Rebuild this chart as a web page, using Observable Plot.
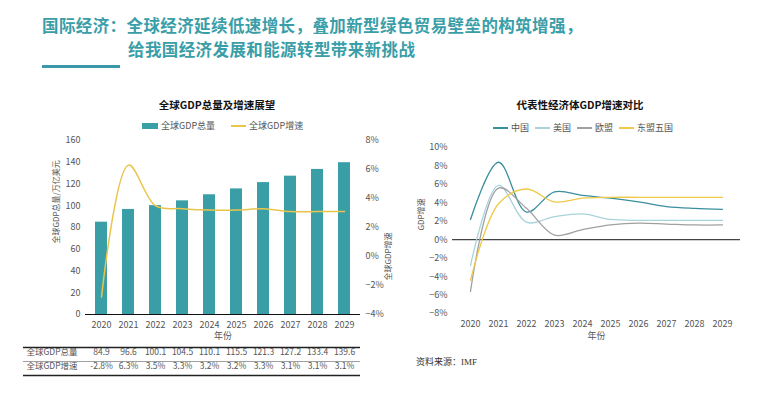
<!DOCTYPE html>
<html><head><meta charset="utf-8">
<script src="https://cdn.jsdelivr.net/npm/d3@7"></script>
<script src="https://cdn.jsdelivr.net/npm/@observablehq/plot@0.6"></script>
<style>
body{margin:0;background:#fff;}
#root{position:relative;width:767px;height:397px;overflow:hidden;font-family:'Noto Sans CJK SC','Noto Sans',sans-serif;background:#fff;}
.abs{position:absolute;white-space:nowrap;}
.title{color:#3a9ea8;font-weight:bold;font-size:16.5px;line-height:24px;letter-spacing:0.4px;}
.ctitle{font-weight:bold;font-size:10.5px;line-height:14px;color:#111;transform:translateX(-50%);}
.leg{font-size:9px;line-height:12px;color:#555;display:flex;align-items:center;}
.sw{display:inline-block;margin-right:3px;}
</style></head>
<body><div id="root">
<div class="abs title" style="left:42px;top:12.5px;">国际经济：全球经济延续低速增长，叠加新型绿色贸易壁垒的构筑增强，</div>
<div class="abs title" style="left:128px;top:36.5px;">给我国经济发展和能源转型带来新挑战</div>
<div class="abs" style="left:42px;top:65px;width:78px;height:3px;background:#3b98a8;"></div>
<div class="abs ctitle" style="left:217px;top:98px;">全球GDP总量及增速展望</div>
<div class="abs ctitle" style="left:580px;top:98px;">代表性经济体GDP增速对比</div>
<div id="legL" class="abs leg" style="left:142px;top:120px;"></div>
<div id="legR" class="abs leg" style="left:493px;top:122px;"></div>
<div class="abs" style="left:416px;top:355px;font-family:'Liberation Serif','Noto Sans CJK SC',serif;font-size:9px;line-height:14px;color:#333;">资料来源：IMF</div>
</div>
<script>
// ---- data ----
const years = ["2020","2021","2022","2023","2024","2025","2026","2027","2028","2029"];
const gdpTotal = [84.9, 96.6, 100.1, 104.5, 110.1, 115.5, 121.3, 127.2, 133.4, 139.6];
const gdpGrowth = [-2.8, 6.3, 3.5, 3.3, 3.2, 3.2, 3.3, 3.1, 3.1, 3.1];
const leftTicks = [0, 20, 40, 60, 80, 100, 120, 140, 160];
const rightTicks = [-4, -2, 0, 2, 4, 6, 8];

const seriesNames = ["中国", "美国", "欧盟", "东盟五国"];
const seriesColors = ["#3a8f9e", "#a9d2dd", "#a0a0a0", "#f0c94a"];
const china = [2.2, 8.4, 3.0, 5.2, 4.8, 4.5, 4.1, 3.6, 3.4, 3.3];
const usa = [-2.8, 5.9, 1.9, 2.5, 2.8, 2.2, 2.1, 2.1, 2.1, 2.1];
const eu = [-5.6, 5.6, 3.4, 0.5, 1.1, 1.6, 1.8, 1.7, 1.6, 1.6];
const asean5 = [-4.4, 3.9, 5.5, 4.1, 4.5, 4.6, 4.6, 4.6, 4.6, 4.6];
const compTicks = [-8, -6, -4, -2, 0, 2, 4, 6, 8, 10];

// ---- helpers ----
const toLeft = g => (g + 4) * 160 / 12;
const fromLeft = v => v * 12 / 160 - 4;
const fmtPct = v => (v < 0 ? "−" + Math.abs(v) : String(v)) + "%";
const font = "'Noto Sans CJK SC','Noto Sans',sans-serif";
const root = document.getElementById("root");

const gdpRows = years.map((y, i) => ({year: y, total: gdpTotal[i], growth: gdpGrowth[i]}));

// ---- left chart ----
const left = Plot.plot({
  width: 400, height: 397,
  marginTop: 140, marginBottom: 83, marginLeft: 85, marginRight: 40,
  style: {fontFamily: font, fontSize: "9px", color: "#555", background: "transparent", overflow: "visible"},
  x: {type: "band", domain: years, paddingInner: 0.56, paddingOuter: 0.28},
  y: {domain: [0, 160]},
  marks: [
    Plot.axisY({ticks: leftTicks, tickSize: 0, tickPadding: 5, label: null}),
    Plot.axisY({anchor: "right", ticks: rightTicks.map(toLeft), tickFormat: v => fmtPct(Math.round(fromLeft(v))), tickSize: 0, tickPadding: 5, label: null}),
    Plot.axisX({tickSize: 0, tickPadding: 7, label: null}),
    Plot.barY(gdpRows, {x: "year", y: "total", fill: "#3a9ea6"}),
    Plot.ruleY([0], {stroke: "#111", strokeWidth: 1.2}),
    Plot.line(gdpRows, {x: "year", y: d => toLeft(d.growth), curve: "catmull-rom", stroke: "#e9c54b", strokeWidth: 1.5}),
    Plot.text(["年份"], {frameAnchor: "bottom", dy: 24}),
    Plot.text(["全球GDP总量/万亿美元"], {frameAnchor: "left", rotate: -90, dx: -29, dy: 16, fontSize: 8}),
    Plot.text(["全球GDP增速"], {frameAnchor: "right", rotate: -90, dx: 28, dy: 5, fontSize: 8}),
    // table
    Plot.ruleY([0], {dy: 33, insetLeft: -62, stroke: "#222", strokeWidth: 1.4}),
    Plot.ruleY([0], {dy: 47, insetLeft: -62, stroke: "#888", strokeWidth: 0.8}),
    Plot.ruleY([0], {dy: 61, insetLeft: -62, stroke: "#222", strokeWidth: 1.6}),
    Plot.text(["全球GDP总量"], {frameAnchor: "bottom-left", textAnchor: "start", dx: -59, dy: 40, fontSize: 8.5}),
    Plot.text(["全球GDP增速"], {frameAnchor: "bottom-left", textAnchor: "start", dx: -59, dy: 54, fontSize: 8.5}),
    Plot.text(gdpRows, {x: "year", text: d => d.total.toFixed(1), frameAnchor: "bottom", dy: 40, fontSize: 8.5}),
    Plot.text(gdpRows, {x: "year", text: d => d.growth.toFixed(1) + "%", frameAnchor: "bottom", dy: 54, fontSize: 8.5})
  ]
});
left.style.position = "absolute"; left.style.left = "0px"; left.style.top = "0px";
root.appendChild(left);

// ---- right chart ----
const seriesValues = [china, usa, eu, asean5];
const compRows = seriesNames.flatMap((s, k) => years.map((y, i) => ({series: s, year: y, value: seriesValues[k][i]})));
const right = Plot.plot({
  width: 367, height: 397,
  marginTop: 147, marginBottom: 84, marginLeft: 52, marginRight: 27,
  style: {fontFamily: font, fontSize: "9px", color: "#555", background: "transparent", overflow: "visible"},
  x: {type: "point", domain: years, padding: 0.5},
  y: {domain: [-8, 10]},
  color: {domain: seriesNames, range: seriesColors},
  marks: [
    Plot.axisY({ticks: compTicks, tickFormat: fmtPct, tickSize: 0, tickPadding: 5, label: null}),
    Plot.axisX({tickSize: 0, tickPadding: 7, label: null}),
    Plot.ruleY([0], {stroke: "#444", strokeWidth: 1.2}),
    Plot.line(compRows, {x: "year", y: "value", z: "series", stroke: "series", curve: "catmull-rom", strokeWidth: 1.3}),
    Plot.text(["年份"], {frameAnchor: "bottom", dy: 25}),
    Plot.text(["GDP增速"], {frameAnchor: "left", rotate: -90, dx: -31, fontSize: 8})
  ]
});
right.style.position = "absolute"; right.style.left = "400px"; right.style.top = "0px";
root.appendChild(right);

// ---- legends ----
const legL = document.getElementById("legL");
legL.innerHTML =
  `<span class="sw" style="width:16px;height:6px;background:#3a9ea6;"></span><span>全球GDP总量</span>` +
  `<span class="sw" style="width:15px;height:1.5px;background:#e9c54b;margin-left:16px;"></span><span>全球GDP增速</span>`;
const legR = document.getElementById("legR");
legR.innerHTML = seriesNames.map((s, k) =>
  `<span class="sw" style="width:15px;height:1.5px;background:${seriesColors[k]};margin-left:${k ? 6 : 0}px;"></span><span>${s}</span>`).join("");
</script>
</body></html>
